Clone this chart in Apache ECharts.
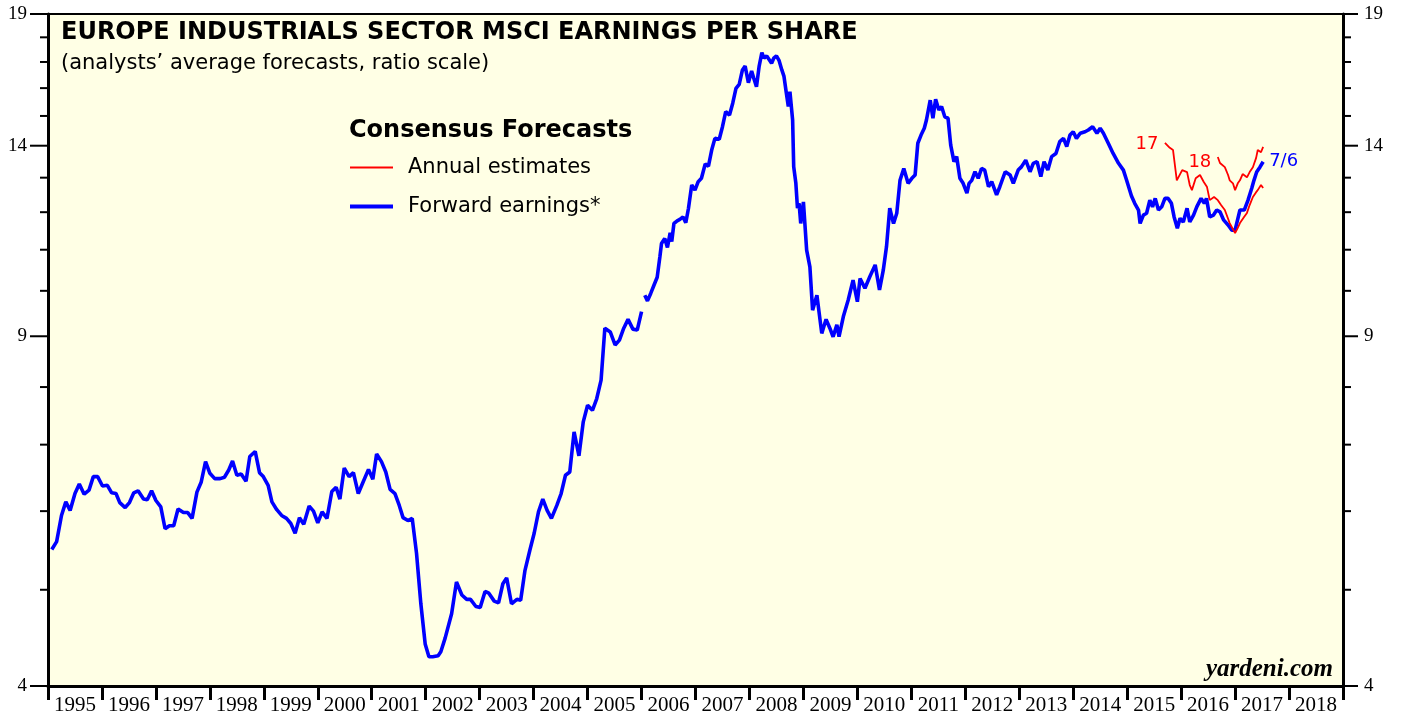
<!DOCTYPE html>
<html>
<head>
<meta charset="utf-8">
<title>Europe Industrials Sector MSCI Earnings Per Share</title>
<script src="https://cdn.jsdelivr.net/npm/echarts@6/dist/echarts.min.js"></script>
<style>
  html, body { margin: 0; padding: 0; background: #ffffff; }
  #chart { width: 1403px; height: 719px; }
</style>
</head>
<body>
<div id="chart"></div>
<script>
// ---- data ---------------------------------------------------------------
const yearLabels = ['1995','1996','1997','1998','1999','2000','2001','2002','2003','2004','2005','2006',
                    '2007','2008','2009','2010','2011','2012','2013','2014','2015','2016','2017','2018'];
const xStart = 1995;
const xEnd = 2019;

const yMajorTicks = [4, 9, 14, 19];
const yMinorTicks = [5, 6, 7, 8, 10, 11, 12, 13, 15, 16, 17, 18];

// forward earnings (time in decimal years, EPS); null marks the break in the series
const forwardEarnings = [
  [1995.07,5.49],[1995.16,5.59],[1995.25,5.94],[1995.33,6.13],[1995.41,6.01],[1995.50,6.25],[1995.58,6.39],[1995.67,6.24],[1995.76,6.30],[1995.84,6.50],[1995.92,6.50],
  [1996.01,6.36],[1996.10,6.37],[1996.18,6.26],[1996.26,6.25],[1996.33,6.12],[1996.43,6.05],[1996.51,6.12],[1996.59,6.26],[1996.67,6.29],[1996.77,6.17],[1996.84,6.16],[1996.92,6.29],
  [1997.00,6.15],[1997.09,6.06],[1997.17,5.76],[1997.25,5.80],[1997.33,5.80],[1997.41,6.03],[1997.51,5.98],[1997.59,5.98],[1997.67,5.90],[1997.76,6.27],[1997.84,6.42],[1997.92,6.73],
  [1998.00,6.55],[1998.09,6.47],[1998.19,6.47],[1998.27,6.49],[1998.35,6.60],[1998.42,6.74],[1998.50,6.52],[1998.58,6.54],[1998.67,6.43],[1998.74,6.81],[1998.84,6.89],[1998.92,6.56],
  [1998.99,6.50],[1999.08,6.37],[1999.15,6.13],[1999.24,6.02],[1999.33,5.94],[1999.42,5.90],[1999.50,5.83],[1999.58,5.70],[1999.66,5.91],[1999.74,5.82],[1999.84,6.07],[1999.92,6.00],
  [2000.00,5.84],[2000.08,5.99],[2000.17,5.90],[2000.26,6.28],[2000.34,6.34],[2000.41,6.17],[2000.49,6.63],[2000.58,6.50],[2000.66,6.56],[2000.75,6.25],[2000.84,6.42],[2000.94,6.61],
  [2001.02,6.46],[2001.09,6.85],[2001.18,6.73],[2001.26,6.57],[2001.34,6.31],[2001.43,6.25],[2001.51,6.08],[2001.58,5.91],[2001.67,5.87],[2001.75,5.90],[2001.83,5.44],[2001.91,4.84],[2001.99,4.41],
  [2002.06,4.28],[2002.13,4.28],[2002.23,4.29],[2002.28,4.33],[2002.36,4.47],[2002.48,4.73],[2002.57,5.09],[2002.67,4.94],[2002.76,4.89],[2002.83,4.89],[2002.93,4.81],
  [2003.01,4.80],[2003.10,4.98],[2003.17,4.96],[2003.27,4.87],[2003.35,4.85],[2003.43,5.07],[2003.50,5.14],[2003.59,4.84],[2003.69,4.89],[2003.76,4.88],[2003.84,5.23],[2003.93,5.48],
  [2004.01,5.70],[2004.09,5.99],[2004.17,6.17],[2004.25,6.01],[2004.33,5.90],[2004.43,6.08],[2004.51,6.25],[2004.59,6.52],[2004.67,6.57],[2004.75,7.21],[2004.84,6.82],[2004.92,7.38],
  [2005.00,7.67],[2005.09,7.58],[2005.17,7.79],[2005.25,8.13],[2005.32,9.17],[2005.42,9.09],[2005.51,8.82],[2005.59,8.92],[2005.67,9.17],[2005.75,9.36],[2005.84,9.15],[2005.92,9.13],[2006.00,9.53],
  [2006.03,null],
  [2006.06,9.90],[2006.11,9.77],[2006.17,9.94],[2006.23,10.13],[2006.29,10.32],[2006.34,10.82],[2006.37,11.16],[2006.43,11.29],[2006.48,11.06],[2006.53,11.44],[2006.56,11.21],[2006.60,11.69],
  [2006.66,11.76],[2006.71,11.80],[2006.77,11.87],[2006.82,11.71],[2006.87,12.11],[2006.93,12.78],[2006.99,12.63],
  [2007.05,12.88],[2007.11,12.98],[2007.18,13.42],[2007.24,13.35],[2007.30,13.86],[2007.36,14.24],[2007.44,14.21],[2007.50,14.63],[2007.56,15.15],[2007.63,15.03],[2007.69,15.45],[2007.75,15.99],
  [2007.81,16.14],[2007.87,16.69],[2007.92,16.84],[2007.98,16.20],
  [2008.04,16.65],[2008.08,16.37],[2008.13,16.05],[2008.18,16.84],[2008.23,17.37],[2008.27,17.15],[2008.32,17.24],[2008.37,17.08],[2008.41,16.95],[2008.45,17.15],[2008.50,17.24],[2008.55,17.05],
  [2008.60,16.69],[2008.64,16.44],[2008.68,15.87],[2008.72,15.33],[2008.75,15.87],[2008.80,14.86],[2008.82,13.33],[2008.86,12.83],[2008.89,12.11],[2008.92,12.25],[2008.95,11.69],
  [2009.00,12.29],[2009.06,10.99],[2009.12,10.57],[2009.17,9.56],[2009.25,9.90],[2009.34,9.06],[2009.42,9.36],[2009.49,9.17],[2009.55,8.99],[2009.62,9.24],[2009.66,8.99],[2009.74,9.42],
  [2009.83,9.79],[2009.92,10.25],
  [2010.00,9.75],[2010.05,10.29],[2010.14,10.06],[2010.23,10.33],[2010.33,10.62],[2010.41,10.02],[2010.48,10.49],[2010.54,11.08],[2010.60,12.11],[2010.67,11.69],[2010.73,11.97],[2010.79,12.92],
  [2010.86,13.28],[2010.94,12.83],
  [2011.01,12.98],[2011.07,13.08],[2011.12,14.08],[2011.18,14.35],[2011.24,14.58],[2011.28,14.86],[2011.35,15.56],[2011.40,14.92],[2011.45,15.59],[2011.51,15.21],[2011.56,15.33],[2011.62,14.97],
  [2011.68,14.92],[2011.73,14.02],[2011.79,13.49],[2011.84,13.65],[2011.90,12.98],[2011.96,12.83],
  [2012.03,12.54],[2012.07,12.83],[2012.12,12.92],[2012.18,13.18],[2012.24,12.98],[2012.30,13.28],[2012.36,13.23],[2012.43,12.73],[2012.49,12.88],[2012.58,12.49],[2012.64,12.73],[2012.74,13.18],
  [2012.83,13.08],[2012.89,12.83],[2012.98,13.23],
  [2013.04,13.33],[2013.12,13.54],[2013.20,13.18],[2013.26,13.44],[2013.33,13.49],[2013.40,13.03],[2013.46,13.49],[2013.53,13.23],[2013.60,13.65],[2013.68,13.75],[2013.75,14.13],[2013.82,14.24],
  [2013.88,13.97],[2013.94,14.35],
  [2014.00,14.46],[2014.06,14.24],[2014.13,14.41],[2014.22,14.46],[2014.28,14.52],[2014.36,14.63],[2014.44,14.41],[2014.50,14.58],[2014.56,14.41],[2014.65,14.08],[2014.74,13.75],[2014.84,13.44],
  [2014.93,13.23],[2014.99,12.92],
  [2015.08,12.46],[2015.14,12.25],[2015.21,12.06],[2015.24,11.69],[2015.30,11.92],[2015.36,11.97],[2015.42,12.34],[2015.47,12.15],[2015.52,12.39],[2015.58,12.06],[2015.64,12.15],[2015.70,12.39],
  [2015.76,12.39],[2015.82,12.25],[2015.87,11.87],[2015.93,11.56],[2015.98,11.83],
  [2016.04,11.73],[2016.11,12.11],[2016.16,11.73],[2016.23,11.92],[2016.29,12.15],[2016.37,12.39],[2016.43,12.25],[2016.47,12.39],[2016.53,11.87],[2016.60,11.92],[2016.66,12.06],[2016.72,12.01],
  [2016.79,11.78],[2016.87,11.65],[2016.94,11.51],
  [2017.00,11.51],[2017.09,12.06],[2017.17,12.06],[2017.24,12.34],[2017.31,12.69],[2017.35,12.92],[2017.40,13.17],[2017.46,13.32],[2017.52,13.49]
];

// consensus annual estimates for calendar 2017 and 2018
const estimates2017 = [
  [2015.70,14.09],[2015.79,13.93],[2015.85,13.86],[2015.92,12.92],[2016.02,13.23],[2016.11,13.17],[2016.16,12.78],[2016.20,12.63],[2016.27,12.98],[2016.35,13.08],
  [2016.42,12.87],[2016.48,12.72],[2016.53,12.34],[2016.61,12.43],[2016.68,12.34],[2016.74,12.20],[2016.81,12.06],[2016.90,11.70],[2017.00,11.43],[2017.05,11.57],
  [2017.09,11.70],[2017.16,11.85],[2017.22,11.98],[2017.27,12.20],[2017.33,12.43],[2017.39,12.57],[2017.42,12.63],[2017.48,12.78],[2017.52,12.69]
];
const estimates2018 = [
  [2016.68,13.64],[2016.72,13.45],[2016.81,13.32],[2016.87,13.08],[2016.90,12.92],[2016.96,12.83],[2017.00,12.63],[2017.05,12.83],[2017.09,12.92],
  [2017.14,13.11],[2017.22,13.01],[2017.27,13.17],[2017.33,13.32],[2017.39,13.61],[2017.42,13.86],[2017.48,13.79],[2017.52,13.96]
];
const lastDateLabel = '7/6';

// ---- styling --------------------------------------------------------------
const SANS = 'DejaVu Sans';
const SERIF = 'Liberation Serif';
const RED = '#FF0000';
const BLUE = '#0000FF';
const RED_WIDTH = 1.8;
const BLUE_WIDTH = 3.6;

const chart = echarts.init(document.getElementById('chart'), null, { renderer: 'canvas' });

function startLabel(text, offset) {
  return {
    symbol: 'circle',
    symbolSize: 1,
    itemStyle: { color: 'rgba(0,0,0,0)' },
    label: {
      show: true, position: 'left', distance: 6, offset: offset,
      formatter: text, color: RED, fontFamily: SANS, fontSize: 18
    },
    emphasis: { disabled: true }
  };
}

const logAxis = (position) => ({
  type: 'log', logBase: 10, min: 4, max: 19, position: position,
  axisLine: { show: true, lineStyle: { color: '#000', width: 3 } },
  axisTick: { show: false },
  axisLabel: { show: false },
  splitLine: { show: false }
});

chart.setOption({
  animation: false,
  backgroundColor: '#ffffff',
  title: {
    left: 61, top: 21, padding: 0, itemGap: 8,
    text: 'EUROPE INDUSTRIALS SECTOR MSCI EARNINGS PER SHARE',
    subtext: '(analysts\u2019 average forecasts, ratio scale)',
    textStyle: { fontFamily: SANS, fontWeight: 'bold', fontSize: 24, color: '#000', lineHeight: 24 },
    subtextStyle: { fontFamily: SANS, fontSize: 21, color: '#000', lineHeight: 21 }
  },
  legend: {
    left: 348, top: 157, orient: 'vertical', padding: 0,
    itemWidth: 43, itemHeight: 20, itemGap: 18,
    selectedMode: false,
    itemStyle: { opacity: 0 },
    textStyle: { fontFamily: SANS, fontSize: 21, color: '#000', padding: [3, 0, 0, 10] },
    data: [
      { name: 'Annual estimates', lineStyle: { color: RED, width: RED_WIDTH + 0.4 } },
      { name: 'Forward earnings*', lineStyle: { color: BLUE, width: BLUE_WIDTH + 0.4 } }
    ]
  },
  grid: {
    left: 48, right: 60, top: 14, bottom: 33,
    show: true, backgroundColor: '#FFFFE5', borderColor: '#000', borderWidth: 2
  },
  xAxis: [
    { type: 'value', min: xStart, max: xEnd, position: 'bottom', show: false },
    {
      type: 'category', data: yearLabels, position: 'bottom', boundaryGap: true,
      axisLine: { show: true, lineStyle: { color: '#000', width: 3 } },
      axisTick: { show: true, length: 14, interval: 0, lineStyle: { color: '#000', width: 3 } },
      axisLabel: { interval: 0, margin: 9, fontFamily: SERIF, fontSize: 21, color: '#000' },
      splitLine: { show: false }
    }
  ],
  yAxis: [logAxis('left'), logAxis('right')],
  series: [
    {
      name: 'Forward earnings*', type: 'line', xAxisIndex: 0, yAxisIndex: 0,
      data: forwardEarnings, symbol: 'none', connectNulls: false,
      lineStyle: { color: BLUE, width: BLUE_WIDTH }, itemStyle: { color: BLUE },
      endLabel: { show: true, formatter: lastDateLabel, color: BLUE, fontFamily: SANS, fontSize: 18, distance: 6 },
      z: 2
    },
    {
      name: 'Annual estimates', type: 'line', xAxisIndex: 0, yAxisIndex: 0,
      data: estimates2017, symbol: 'none',
      lineStyle: { color: RED, width: RED_WIDTH }, itemStyle: { color: RED },
      markPoint: Object.assign(startLabel('17', [0, 1]), { data: [{ coord: estimates2017[0] }] }),
      z: 3
    },
    {
      name: 'Annual estimates', type: 'line', xAxisIndex: 0, yAxisIndex: 0,
      data: estimates2018, symbol: 'none',
      lineStyle: { color: RED, width: RED_WIDTH }, itemStyle: { color: RED },
      markPoint: Object.assign(startLabel('18', [0, 5]), { data: [{ coord: estimates2018[0] }] }),
      z: 3
    }
  ]
});

// ---- value-axis ticks & labels on both sides of the ratio scale ---------
function tick(x1, y, x2, w) {
  return { type: 'line', silent: true, z: 10,
           shape: { x1: x1, y1: y, x2: x2, y2: y },
           style: { stroke: '#000', lineWidth: w } };
}
function label(text, x, y, align) {
  return { type: 'text', silent: true, z: 10, x: x, y: y,
           style: { text: text, fill: '#000', font: '19px "' + SERIF + '"', align: align, verticalAlign: 'middle' } };
}

const leftX = chart.convertToPixel({ xAxisIndex: 0 }, xStart);
const rightX = chart.convertToPixel({ xAxisIndex: 0 }, xEnd);
const decor = [];
yMinorTicks.forEach(v => {
  const y = chart.convertToPixel({ yAxisIndex: 0 }, v);
  decor.push(tick(leftX - 8, y, leftX, 2), tick(rightX, y, rightX + 8, 2));
});
yMajorTicks.forEach(v => {
  const y = chart.convertToPixel({ yAxisIndex: 0 }, v);
  decor.push(tick(leftX - 18, y, leftX, 2), tick(rightX, y, rightX + 15, 2));
  decor.push(label(String(v), leftX - 21, y, 'right'), label(String(v), rightX + 21, y, 'left'));
});

// legend heading and source tag
decor.push({
  type: 'text', silent: true, x: 349, y: 131,
  style: { text: 'Consensus Forecasts', fill: '#000', font: 'bold 24px "' + SANS + '"', verticalAlign: 'middle' }
});
decor.push({
  type: 'text', silent: true, x: rightX - 10, y: 670,
  style: { text: 'yardeni.com', fill: '#000', font: 'italic bold 25px "' + SERIF + '"', align: 'right', verticalAlign: 'middle' }
});

chart.setOption({ graphic: decor });
</script>
</body>
</html>
